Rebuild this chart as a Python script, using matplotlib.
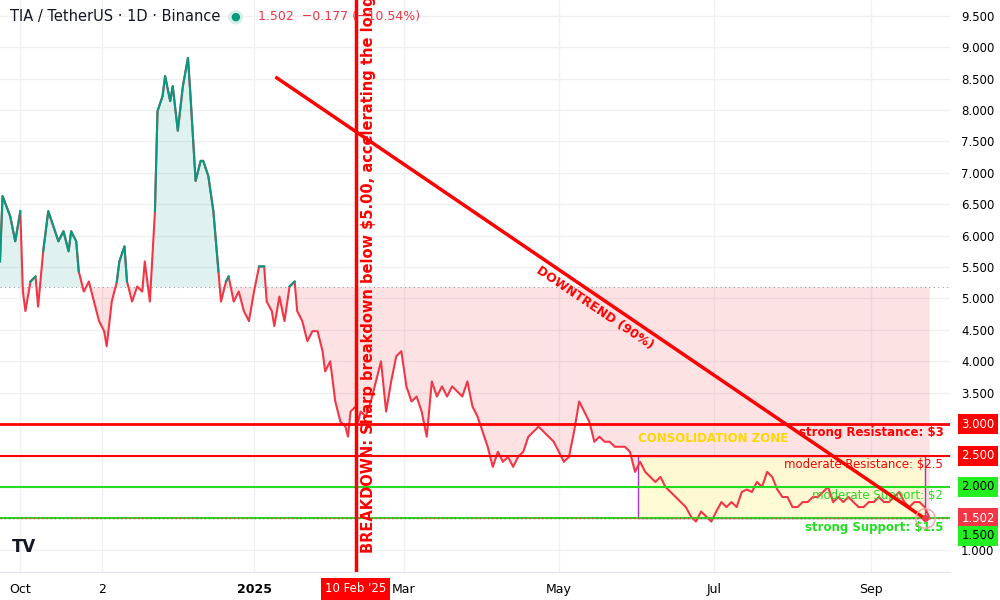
import numpy as np
import pandas as pd
import matplotlib.pyplot as plt
import matplotlib.dates as mdates
import matplotlib.patches as mpatches

# price, day offsets from 2024-10-01 (first segment)
days_a = [-8, -7, -4, -2, 0, 1, 2, 4, 6, 7, 9, 11, 13, 15, 17, 19, 20, 22, 23, 25, 27, 29, 31, 33, 34,
          36, 38, 39, 41, 42, 44, 46, 48, 49, 51, 53, 54, 56, 57, 59, 60, 62, 64, 66, 67, 69, 71, 72,
          74, 76, 78, 79, 81, 82, 84, 86, 88, 90, 92, 94, 96, 97, 99, 100, 102, 104, 106, 108, 109,
          111, 113, 115, 117, 119, 120, 122, 124, 126, 128, 129, 130, 132, 133]
price_a = [5.59, 6.63, 6.31, 5.91, 6.39, 5.11, 4.80, 5.27, 5.35, 4.87, 5.75, 6.39, 6.15, 5.91, 6.07,
           5.75, 6.07, 5.91, 5.43, 5.11, 5.27, 4.95, 4.64, 4.48, 4.24, 4.95, 5.27, 5.59, 5.83, 5.27,
           4.95, 5.19, 5.11, 5.59, 4.95, 6.39, 7.98, 8.22, 8.54, 8.14, 8.38, 7.67, 8.38, 8.83, 8.22,
           6.87, 7.19, 7.19, 6.95, 6.39, 5.43, 4.95, 5.27, 5.35, 4.95, 5.11, 4.80, 4.64, 5.11, 5.51,
           5.51, 4.95, 4.80, 4.56, 5.03, 4.64, 5.19, 5.27, 4.80, 4.64, 4.32, 4.48, 4.48, 4.16, 3.84,
           4.00, 3.36, 3.04, 2.96, 2.80, 3.20, 3.28, 3.04]
# second segment, sampled every 2 days
price_b = [3.20, 3.12, 3.36, 3.68, 4.00, 3.20, 3.68, 4.08, 4.16, 3.60, 3.36, 3.44, 3.20, 2.80, 3.68,
           3.44, 3.60, 3.44, 3.60, 3.52, 3.44, 3.68, 3.28, 3.12, 2.88, 2.64, 2.32, 2.56, 2.40, 2.48,
           2.32, 2.48, 2.56, 2.80, 2.88, 2.96, 2.88, 2.80, 2.72, 2.56, 2.40, 2.48, 2.88, 3.36, 3.20,
           3.04, 2.72, 2.80, 2.72, 2.72, 2.64, 2.64, 2.64, 2.56, 2.24, 2.40, 2.24, 2.16, 2.08, 2.16,
           2.00, 1.92, 1.84, 1.76, 1.68, 1.53, 1.45, 1.61, 1.53, 1.45, 1.61, 1.76, 1.68, 1.76, 1.68,
           1.92, 1.96, 1.92, 2.08, 2.00, 2.24, 2.16, 1.96, 1.84, 1.84, 1.68, 1.68, 1.76, 1.76, 1.84,
           1.84, 1.92, 2.00, 1.76, 1.84, 1.76, 1.84, 1.76, 1.68, 1.68, 1.76, 1.76, 1.84, 1.76, 1.76,
           1.84, 1.92, 1.76, 1.68, 1.76, 1.76, 1.68, 1.50]

base_price = 5.18
levels = [3.0, 2.5, 2.0, 1.5]
level_text = ['strong Resistance: $3', 'moderate Resistance: $2.5', 'moderate Support: $2', 'strong Support: $1.5']
level_col = ['#ff0000', '#ff0000', '#22dd22', '#22dd22']
level_lw = [2, 1.5, 1.5, 1.5]
trend_start = ('2025-01-10', 8.51)
trend_end = ('2025-09-22', 1.50)
zone_start, zone_end = '2025-06-01', '2025-09-22'
breakdown_date = '2025-02-10'

t0 = pd.Timestamp('2024-10-01')
dates_a = [t0 + pd.Timedelta(days=d) for d in days_a]
dates_b = list(pd.date_range(t0 + pd.Timedelta(days=134), periods=len(price_b), freq='2D'))
dates = mdates.date2num(dates_a + dates_b)
price = np.array(price_a + price_b)

fig = plt.figure(figsize=(10, 6), dpi=100)
ax = fig.add_axes([0, 0.047, 0.95, 0.953])
ax.set_ylim(0.65, 9.75)
ax.set_xlim(mdates.date2num(pd.Timestamp('2024-09-23')), mdates.date2num(pd.Timestamp('2025-10-02')))

green, red = '#089981', '#f23645'
ax.fill_between(dates, price, base_price, where=price >= base_price, interpolate=True, color=green, alpha=0.12, lw=0)
ax.fill_between(dates, price, base_price, where=price <= base_price, interpolate=True, color=red, alpha=0.14, lw=0)
# red line everywhere, green drawn on top where above the baseline
ax.plot(dates, price, color=red, lw=1.5, zorder=4)
ax.plot(dates, np.ma.masked_less(price, base_price), color=green, lw=1.5, zorder=4)
ax.axhline(base_price, color='#999999', ls=(0, (1, 3)), lw=0.8)

# consolidation zone
zs, ze = mdates.date2num(pd.Timestamp(zone_start)), mdates.date2num(pd.Timestamp(zone_end))
ax.add_patch(mpatches.Rectangle((zs, 1.5), ze - zs, 1.0, facecolor='#fffbd0', edgecolor='#a020c0', lw=1, zorder=1, alpha=0.9))
ax.text(zs, 2.72, 'CONSOLIDATION ZONE', color='#ffd700', fontsize=8.5, fontweight='bold', zorder=6)

for lv, txt, c, lw in zip(levels, level_text, level_col, level_lw):
    ax.axhline(lv, color=c, lw=lw, zorder=5)
    ax.text(0.993, lv - 0.14, txt, transform=ax.get_yaxis_transform(), ha='right', va='center', color=c, fontsize=8.5,
            fontweight='bold' if 'strong' in txt else 'normal', zorder=6)
ax.axhline(1.502, color=red, ls=(0, (1, 2)), lw=1, zorder=5)

# trend line
x1, x2 = mdates.date2num(pd.Timestamp(trend_start[0])), mdates.date2num(pd.Timestamp(trend_end[0]))
ax.plot([x1, x2], [trend_start[1], trend_end[1]], color='#ff0000', lw=2.5, zorder=6)
ax.text(mdates.date2num(pd.Timestamp('2025-05-15')), 4.85, 'DOWNTREND (90%)', color='#ff0000', fontsize=9,
        fontweight='bold', rotation=-34, ha='center', va='center', rotation_mode='anchor', zorder=6)
ax.plot([x2], [trend_end[1]], 'o', ms=14, mfc='none', mec='#f5a0a8', zorder=6)
ax.plot([x2], [trend_end[1]], 'o', ms=4, color=red, zorder=7)

# breakdown marker
xb = mdates.date2num(pd.Timestamp(breakdown_date))
ax.axvline(xb, color='#ff0000', lw=2.5, zorder=6)
ax.text(xb + 5, 0.95, 'BREAKDOWN: Sharp breakdown below $5.00, accelerating the long-term do', color='#ff0000',
        fontsize=10.5, fontweight='bold', rotation=90, ha='center', va='bottom', zorder=6, clip_on=True)

# grid and axes
ax.set_yticks(np.arange(1.0, 9.51, 0.5))
ax.yaxis.tick_right()
ax.tick_params(axis='y', length=0, labelsize=8.5, pad=8)
ax.set_yticklabels(['%.3f' % v for v in np.arange(1.0, 9.51, 0.5)])
xt = ['2024-10-01', '2024-11-02', '2025-01-01', '2025-03-01', '2025-05-01', '2025-07-01', '2025-09-01']
xl = ['Oct', '2', '2025', 'Mar', 'May', 'Jul', 'Sep']
ax.set_xticks([mdates.date2num(pd.Timestamp(d)) for d in xt])
ax.set_xticklabels(xl, fontsize=9)
ax.get_xticklabels()[2].set_fontweight('bold')
ax.tick_params(axis='x', length=0, pad=8)
ax.grid(color='#f0f0f0', lw=1)
ax.set_axisbelow(True)
for s in ['top', 'left', 'right']:
    ax.spines[s].set_visible(False)
ax.spines['bottom'].set_color('#e0e3eb')

# right-axis value boxes
boxes = [(3.0, '3.000', '#ff0000'), (2.5, '2.500', '#ff0000'), (2.0, '2.000', '#22ee22'),
         (1.502, '1.502', red), (1.22, '1.500', '#22ee22')]
for y, t, c in boxes:
    ax.text(1.012, y, t, transform=ax.get_yaxis_transform(), ha='left', va='center', fontsize=8.5,
            color='white' if c != '#22ee22' else 'black', zorder=8,
            bbox=dict(boxstyle='square,pad=0.3', fc=c, ec='none'))
ax.text(xb, -0.03, "10 Feb '25", transform=ax.get_xaxis_transform(), ha='center', va='center', fontsize=8.5,
        color='white', bbox=dict(boxstyle='square,pad=0.35', fc='#ff0000', ec='none'))

fig.text(0.01, 0.973, 'TIA / TetherUS · 1D · Binance', fontsize=10.5, color='#131722', va='center')
fig.text(0.235, 0.973, '●', fontsize=14, color='#d6efe9', va='center', ha='center')
fig.text(0.235, 0.973, '●', fontsize=8, color=green, va='center', ha='center')
fig.text(0.258, 0.973, '1.502  −0.177 (−10.54%)', fontsize=9, color=red, va='center')
fig.text(0.012, 0.08, 'TV', fontsize=12, fontweight='bold', color='#131722')

fig.savefig('out.png', dpi=100)
